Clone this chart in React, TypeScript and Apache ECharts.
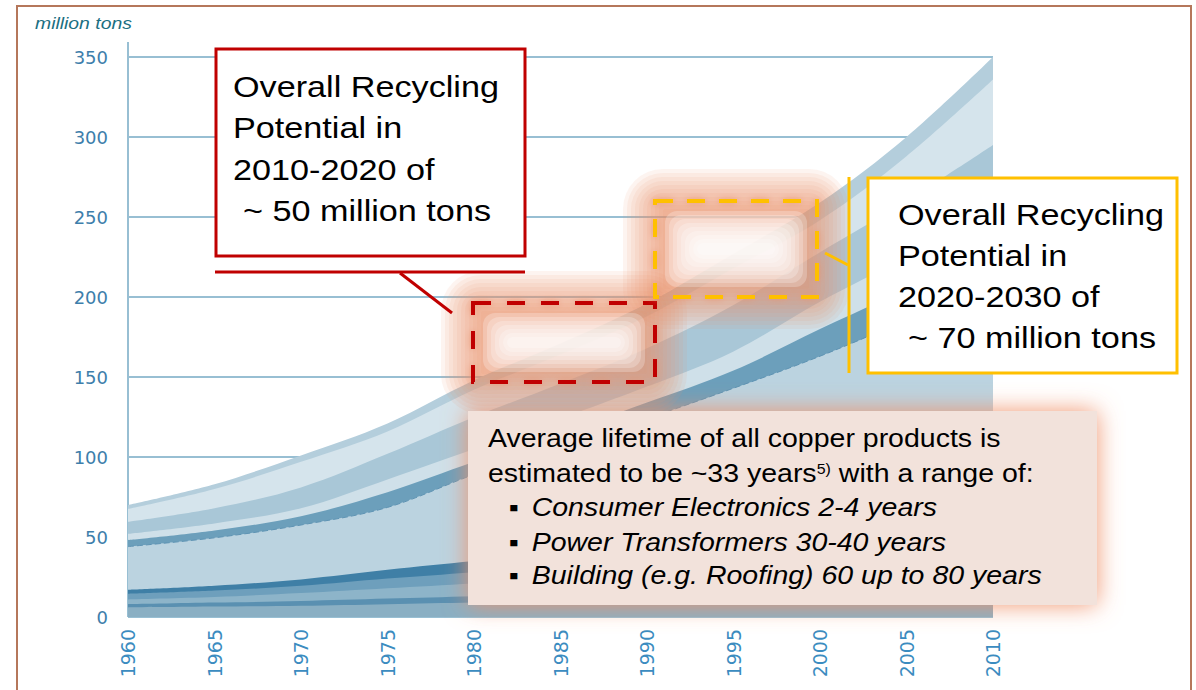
import React, { useEffect, useRef } from "react";
import * as echarts from "echarts";

// ---- data (cumulative band tops, million tons) ----
const years = ["1960", "1965", "1970", "1975", "1980", "1985", "1990", "1995", "2000", "2005", "2010"];
const totalTop = [70, 83, 101, 121, 148, 171, 196, 227, 259, 300, 350];
const lightestTop = [67.5, 80, 97, 116, 142, 164, 188, 218, 248, 288, 336];
const mediumTop = [59.5, 68, 81, 102, 125, 146, 168, 195, 228, 260, 295];
const lightTop = [52, 58.5, 68, 86, 105, 124, 144, 166, 197, 225, 255];
const darkTop = [48, 54, 63, 78, 97, 115, 134, 154, 180, 205, 232];
const mainTop = [44, 49.5, 57.5, 68.5, 89, 106, 124, 143, 163, 186, 212];
const stripe5Top = [17, 19.5, 23.5, 29.5, 35, 40, 45, 50, 55, 61, 67];
const stripe4Top = [14.5, 16.5, 19.5, 24, 28, 32, 36, 40, 44, 49, 54];
const stripe3Top = [11, 12.5, 15, 18, 21, 24, 27, 30, 33, 37, 41];
const stripe2Top = [8, 9, 10, 11.5, 13, 14.5, 16, 17.5, 19, 21, 23];
const stripe1Top = [6, 6.5, 7, 8, 9, 10, 11, 12, 13, 14, 15];

const yMin = 0;
const yMax = 350;
const yStep = 50;

const redBoxLines = ["Overall Recycling", "Potential in", "2010-2020 of", "~ 50 million tons"];
const yellowBoxLines = ["Overall Recycling", "Potential in", "2020-2030 of", "~ 70 million tons"];
const infoLine1 = "Average lifetime of all copper products is";
const infoLine2 = "estimated to be ~33 years{sup|5)} with a range of:";
const infoBullets = [
  "Consumer Electronics 2-4 years",
  "Power Transformers 30-40 years",
  "Building (e.g. Roofing) 60 up to 80 years",
];

const layers = [
  { data: totalTop, color: "#b4cedc" },
  { data: lightestTop, color: "#d5e4ec" },
  { data: mediumTop, color: "#a9c7d7" },
  { data: lightTop, color: "#cfe0e9" },
  { data: darkTop, color: "#6c9fbb" },
  { data: mainTop, color: "#bbd3e0", dashed: true },
  { data: stripe5Top, color: "#3f7fa6" },
  { data: stripe4Top, color: "#6e9fbc" },
  { data: stripe3Top, color: "#8db4c9" },
  { data: stripe2Top, color: "#5a90b1" },
  { data: stripe1Top, color: "#8aafc3" },
];

const SX = 1.14;
const ARIAL = '"Liberation Sans", Arial, sans-serif';

function stext(x: number, y: number, text: string, font: string, fill: string, z: number, extra: any = {}) {
  return {
    type: "group",
    x,
    y: 0,
    scaleX: SX,
    z,
    children: [
      {
        type: "text",
        x: 0,
        y,
        z,
        style: { text, font, fill, align: "left", verticalAlign: "middle", ...extra },
      },
    ],
  };
}

// soft glow built from stacked translucent rounded rectangles
function softGlow(x: number, y: number, w: number, h: number) {
  const out: any[] = [];
  for (let inf = 32; inf >= -8; inf -= 4) {
    const r = Math.max(2, inf + 8);
    out.push({
      type: "rect",
      shape: { x: x - inf, y: y - inf, width: w + 2 * inf, height: h + 2 * inf, r },
      style: { fill: "rgba(236,150,112,0.1)" },
      z: 10,
    });
  }
  for (let inf = -10; ; inf -= 4) {
    const ww = w + 2 * inf;
    const hh = h + 2 * inf;
    if (ww < 20 || hh < 8) break;
    out.push({
      type: "rect",
      shape: { x: x - inf, y: y - inf, width: ww, height: hh, r: Math.min(hh / 2, 12) },
      style: { fill: "rgba(255,255,255,0.24)" },
      z: 11,
    });
  }
  return out;
}

export default function App() {
  const ref = useRef<HTMLDivElement>(null);
  useEffect(() => {
    const chart = echarts.init(ref.current!, null, { renderer: "svg" });
    const graphics: any[] = [];
    // outer border
    graphics.push({ type: "rect", shape: { x: 17, y: 6, width: 1174, height: 700 }, style: { fill: "none", stroke: "#b5775b", lineWidth: 2 }, z: 1 });
    // y axis line (extends above 350)
    graphics.push({ type: "line", shape: { x1: 128, y1: 42, x2: 128, y2: 617 }, style: { stroke: "#98bfd3", lineWidth: 2 }, z: 1 });
    graphics.push(stext(35, 23, "million tons", 'italic 17px ' + ARIAL, "#1b6f82", 5));

    // glows around dashed boxes
    graphics.push(...softGlow(473, 303, 182, 79));
    graphics.push(...softGlow(655, 201, 162, 96));

    // dashed boxes
    graphics.push({ type: "rect", shape: { x: 473, y: 303, width: 182, height: 79 }, style: { fill: "none", stroke: "#c00000", lineWidth: 4, lineDash: [18, 16], shadowBlur: 7, shadowColor: "rgba(232,150,115,0.9)" }, z: 12 });
    graphics.push({ type: "rect", shape: { x: 655, y: 201, width: 162, height: 96 }, style: { fill: "none", stroke: "#ffc000", lineWidth: 4, lineDash: [18, 14], shadowBlur: 7, shadowColor: "rgba(232,150,115,0.9)" }, z: 12 });

    // info box
    graphics.push({ type: "rect", shape: { x: 468, y: 411, width: 629, height: 194 }, style: { fill: "#f2e2db", shadowBlur: 24, shadowColor: "rgba(240,145,105,0.95)" }, z: 20 });
    graphics.push(stext(488, 439, infoLine1, "25px " + ARIAL, "#000", 21));
    graphics.push(
      stext(488, 474, infoLine2, "25px " + ARIAL, "#000", 21, {
        rich: { sup: { font: "14px " + ARIAL, fill: "#000", verticalAlign: "top" } },
      })
    );
    const bulletY = [507.5, 542.5, 576];
    infoBullets.forEach((b, i) => {
      graphics.push(stext(509, bulletY[i], "▪", "25px " + ARIAL, "#000", 21));
      graphics.push(stext(531.7, bulletY[i], b, "italic 25px " + ARIAL, "#000", 21));
    });

    // red solid box + connector
    graphics.push({ type: "rect", shape: { x: 216, y: 49, width: 309, height: 207 }, style: { fill: "#fff", stroke: "#c00000", lineWidth: 3 }, z: 30 });
    const redY = [86.5, 128, 169.5, 211];
    redBoxLines.forEach((t, i) => graphics.push(stext(i === 3 ? 243 : 233, redY[i], t, "30px " + ARIAL, "#000", 31)));
    graphics.push({ type: "line", shape: { x1: 215, y1: 272, x2: 525, y2: 272 }, style: { stroke: "#c00000", lineWidth: 3 }, z: 30 });
    graphics.push({ type: "line", shape: { x1: 400, y1: 273, x2: 452, y2: 313 }, style: { stroke: "#c00000", lineWidth: 3 }, z: 30 });

    // yellow solid box + connector
    graphics.push({ type: "rect", shape: { x: 868, y: 178, width: 309, height: 195 }, style: { fill: "#fff", stroke: "#ffc000", lineWidth: 3 }, z: 30 });
    const yelY = [215, 256, 297, 338];
    yellowBoxLines.forEach((t, i) => graphics.push(stext(i === 3 ? 908 : 898, yelY[i], t, "30px " + ARIAL, "#000", 31)));
    graphics.push({ type: "line", shape: { x1: 849, y1: 177, x2: 849, y2: 373 }, style: { stroke: "#ffc000", lineWidth: 3 }, z: 30 });
    graphics.push({ type: "line", shape: { x1: 825, y1: 253, x2: 848, y2: 265 }, style: { stroke: "#ffc000", lineWidth: 3 }, z: 30 });

    chart.setOption({
      animation: false,
      backgroundColor: "#ffffff",
      grid: { left: 128, top: 57, width: 865, height: 560, containLabel: false },
      xAxis: {
        type: "category",
        boundaryGap: false,
        data: years,
        axisLine: { show: false },
        axisTick: { show: false },
        splitLine: { show: false },
        axisLabel: { rotate: 90, margin: 12, color: "#3b8cc0", fontSize: 19, fontFamily: "DejaVu Sans" },
      },
      yAxis: {
        type: "value",
        min: yMin,
        max: yMax,
        interval: yStep,
        axisLine: { show: false },
        axisTick: { show: false },
        axisLabel: { margin: 20, color: "#3d7eab", fontSize: 18, fontFamily: "DejaVu Sans" },
        splitLine: { show: true, lineStyle: { color: "#98bfd3", width: 2 } },
      },
      series: layers.map((l: any) => ({
        type: "line",
        data: l.data,
        smooth: 0.35,
        symbol: "none",
        silent: true,
        lineStyle: l.dashed
          ? { color: "#5e93b3", width: 1, type: [6, 3] }
          : { opacity: 0, width: 0 },
        areaStyle: { color: l.color, opacity: 1 },
        z: 2,
      })),
      graphic: { elements: graphics },
    });
    return () => chart.dispose();
  }, []);
  return (
    <div
      ref={ref}
      style={{ position: "fixed", left: 0, top: 0, width: 1196, height: 690, background: "#fff" }}
    />
  );
}
